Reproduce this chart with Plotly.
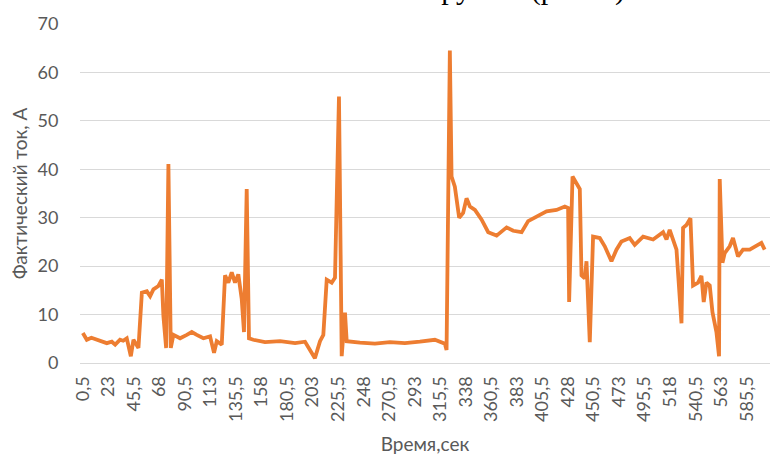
import plotly.graph_objects as go

# Measured current over time
time_s = [0.5, 4, 8, 12.8, 17, 21.6, 26, 29, 33.3, 36, 39.2, 42.8, 45.1, 49.5, 52.5,
          56.9, 59.8, 62.7, 67.1, 70.1, 71.5, 73.9, 75.9, 78, 80.3, 86.2, 92.1, 96.5,
          100.9, 106.7, 112.6, 116.1, 118.5, 122.9, 125.8, 128.7, 131.7, 134.6, 137.5,
          140.5, 142.5, 144.9, 146.9, 150.7, 161, 174.3, 187.5, 196.3, 205, 209.5,
          212.4, 215.4, 219.8, 222.7, 226.2, 228.6, 231.5, 233, 244.7, 257.9, 271.1,
          284.3, 297.5, 310.7, 319.5, 321, 323.9, 325.4, 328.3, 332.1, 335.6, 338.6,
          341.6, 346, 351.9, 357.7, 365.1, 373.9, 379.7, 387.1, 392.9, 400.3, 409.1,
          417.9, 425.2, 428.1, 429, 432, 438.4, 439.9, 442.8, 444.3, 447.2, 450.1,
          456, 460.4, 466.3, 470.7, 475.1, 482.4, 486.8, 494.2, 503, 511.8, 514.8,
          517.6, 523.6, 528, 529.4, 532.4, 535.9, 538.2, 542.6, 545.6, 547.6, 550,
          552.9, 555.3, 558.8, 561.1, 561.7, 564.1, 566.1, 570.5, 573.4, 577.8, 582.2,
          588.1, 594, 598.4, 601.3]

current_a = [6.2, 4.8, 5.2, 4.8, 4.5, 4.1, 4.4, 3.8, 4.8, 4.6, 5.1, 1.4, 4.8, 3.1, 14.5,
             14.8, 13.8, 15.2, 15.9, 17.2, 9.7, 3.1, 41.1, 3.1, 5.8, 5.1, 5.8, 6.4,
             5.8, 5.1, 5.5, 2.1, 4.5, 3.8, 18.1, 16.6, 18.7, 16.6, 18.3,
             13.2, 6.4, 35.9, 5.1, 4.8, 4.3, 4.5, 4.1, 4.4, 1.0, 4.5,
             5.8, 17.2, 16.6, 17.6, 55.0, 1.4, 10.4, 4.5, 4.2, 4.0, 4.3,
             4.1, 4.4, 4.8, 4.0, 2.7, 64.5, 38.5, 36.4, 30.0, 31.0, 34.0,
             32.3, 31.6, 29.6, 27.0, 26.3, 28.0, 27.3, 27.0, 29.3, 30.3, 31.3,
             31.6, 32.3, 32.0, 12.6, 38.5, 35.9, 18.1, 17.5, 21.0, 4.3, 26.1,
             25.8, 24.1, 21.0, 23.4, 25.1, 25.8, 24.4, 26.1, 25.5, 27.0, 25.5,
             27.5, 23.4, 8.2, 27.9, 28.5, 29.9, 16.0, 16.6, 18.0, 12.6, 16.6,
             16.0, 10.5, 6.4, 1.4, 38.0, 20.7, 22.7, 24.1, 25.8, 22.0, 23.4,
             23.4, 24.1, 24.8, 23.4]

# Category labels shown along the time axis
tick_times = [0.5 + 22.5 * i for i in range(27)]
tick_labels = [("%g" % t).replace(".", ",") for t in tick_times]

y_ticks = [0, 10, 20, 30, 40, 50, 60, 70]

font_family = "Lato, 'Open Sans', sans-serif"
grey = "#595959"

fig = go.Figure()
fig.add_trace(go.Scatter(
    x=time_s, y=current_a, mode="lines",
    line=dict(color="#ED7D31", width=3.8),
    hoverinfo="x+y",
))

fig.update_layout(
    width=775, height=456,
    margin=dict(l=80, r=5, t=24, b=91),
    paper_bgcolor="white", plot_bgcolor="white",
    showlegend=False,
    font=dict(family=font_family, color=grey, size=18),
    xaxis=dict(
        range=[-2, 606],
        tickmode="array", tickvals=tick_times, ticktext=tick_labels,
        tickangle=-90, tickfont=dict(size=18, color=grey),
        showgrid=False, zeroline=False,
        showline=True, linecolor="#D9D9D9", linewidth=1,
        ticks="outside", ticklen=5, tickcolor="rgba(0,0,0,0)",
        title=dict(text="Время,сек", font=dict(size=19, color=grey), standoff=16),
    ),
    yaxis=dict(
        range=[0, 70], tickmode="array", tickvals=y_ticks,
        tickfont=dict(size=18, color=grey),
        showgrid=True, gridcolor="#D9D9D9", gridwidth=1,
        zeroline=False, showline=False,
        ticks="outside", ticklen=17, tickcolor="rgba(0,0,0,0)",
        title=dict(text="Фактический ток, А", font=dict(size=19, color=grey), standoff=4),
    ),
    annotations=[dict(
        text="группы (рис. 4)", xref="paper", yref="paper",
        x=0.648, y=1, xanchor="center", yanchor="middle", yshift=35,
        showarrow=False,
        font=dict(family="Liberation Serif, serif", size=30, color="black"),
    )],
)

fig.write_html("out.html")
